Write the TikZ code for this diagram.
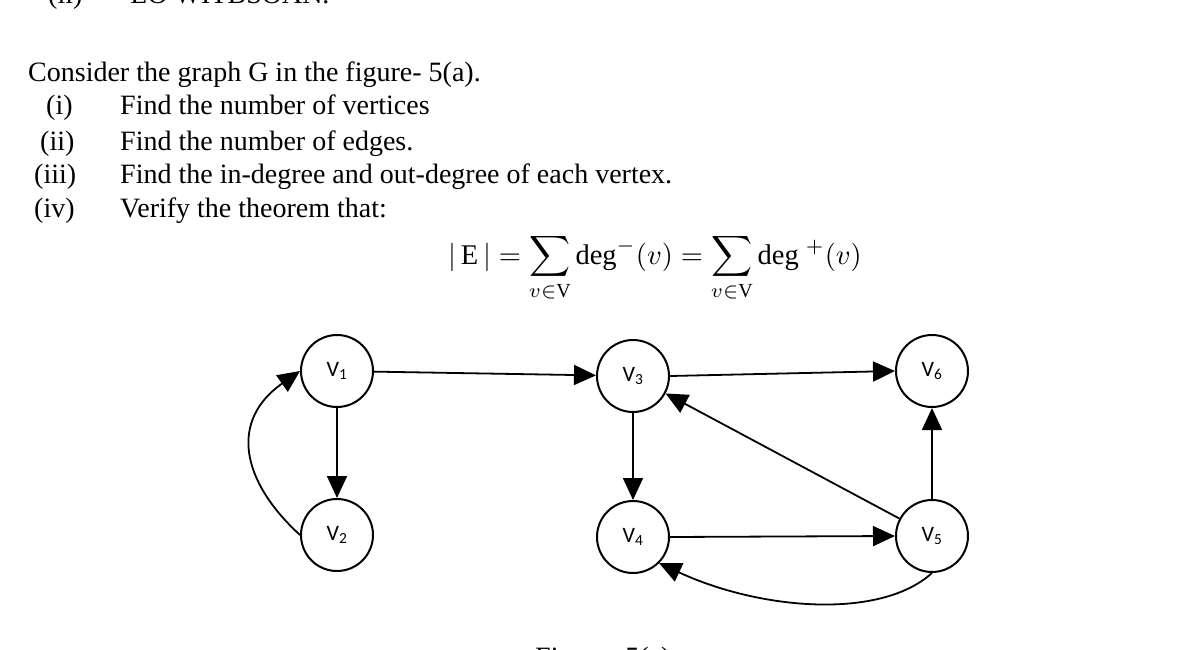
\documentclass[tikz,border=0pt]{standalone}
\usepackage{fontspec}
\setmainfont{Liberation Serif}
\newfontfamily\lblfont{Carlito}
\usetikzlibrary{arrows.meta}
\begin{document}
\begin{tikzpicture}[x=1pt,y=-1pt,
  vtx/.style={circle,draw,line width=2pt,minimum size=72pt,inner sep=0pt,font=\lblfont\fontsize{22}{22}\selectfont},
  edge/.style={line width=1.8pt,-{Triangle[length=22pt,width=20pt]}},
  txt/.style={anchor=base west,inner sep=0pt,font=\fontsize{28}{30}\selectfont}]
\useasboundingbox (0,0) rectangle (1200,650);
\begin{scope}
\clip (0,0) rectangle (1200,650);
\node[txt] (cap) at (535,666) {Figure: 5(a)};
\node[txt] (top) at (48,4) {(ii)\hspace{48pt}LO WITBSOAN.};
\end{scope}
\node[txt] (t0) at (28,82) {Consider the graph G in the figure- 5(a).};
\node[txt] (l1) at (46,115) {(i)};
\node[txt] (l2) at (40,150) {(ii)};
\node[txt] (l3) at (34,184) {(iii)};
\node[txt] (l4) at (34,217) {(iv)};
\node[txt] (i1) at (120,115) {Find the number of vertices};
\node[txt] (i2) at (120,150) {Find the number of edges.};
\node[txt] (i3) at (120,184) {Find the in-degree and out-degree of each vertex.};
\node[txt] (i4) at (120,217) {Verify the theorem that:};
\node[inner sep=0pt] (f) at (655,268)
 {\scalebox{2.85}{$|\,\mathrm{E}\,| = \displaystyle\sum_{v\in\mathrm{V}}\mathrm{deg}^{\mathbf{-}}(v) = \sum_{v\in\mathrm{V}}\mathrm{deg}\ ^{+}(v)$}};
\node[vtx] (v1) at (337,371) {V\textsubscript{1}};
\node[vtx] (v2) at (337,535) {V\textsubscript{2}};
\node[vtx] (v3) at (633,376) {V\textsubscript{3}};
\node[vtx] (v4) at (633,537) {V\textsubscript{4}};
\node[vtx] (v6) at (932,371) {V\textsubscript{6}};
\node[vtx] (v5) at (932,536) {V\textsubscript{5}};
\draw[edge] (v1) -- (v3);
\draw[edge] (v3.east) -- (v6.west);
\draw[edge] (v1) -- (v2);
\draw[edge] (v3) -- (v4);
\draw[edge] (v4.east) -- (v5.west);
\draw[edge] (v5) -- (v3);
\draw[edge] (v5) -- (v6);
\draw[edge] (v2.west) .. controls (240,480) and (230,420) .. (v1.west);
\draw[edge] (v5.south) .. controls (880,620) and (760,610) .. (v4.south east);
\end{tikzpicture}
\end{document}
